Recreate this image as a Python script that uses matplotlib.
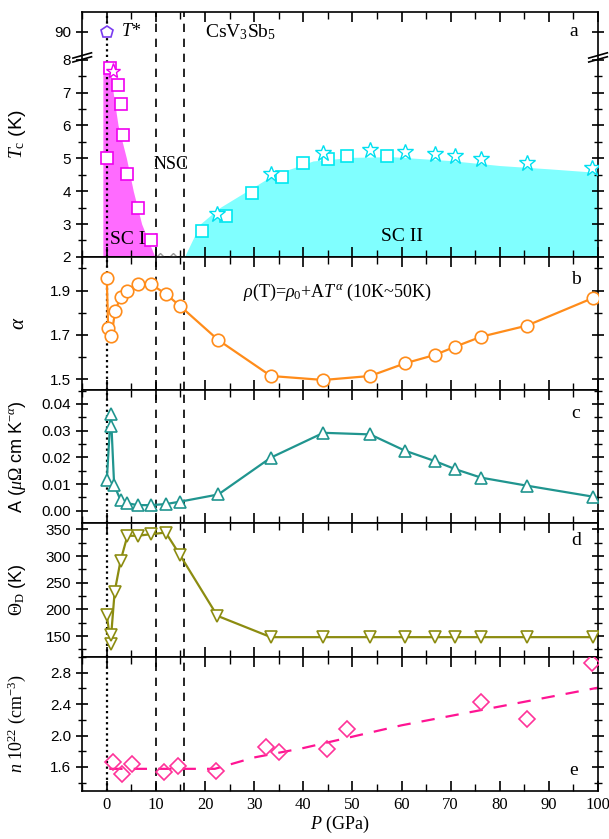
import matplotlib
matplotlib.use('Agg')
import matplotlib.pyplot as plt
from matplotlib.ticker import MultipleLocator, FixedLocator, FormatStrFormatter

plt.rcParams['font.family'] = ['Liberation Sans', 'DejaVu Sans']
plt.rcParams['mathtext.fontset'] = 'custom'
plt.rcParams['mathtext.rm'] = 'Liberation Serif'
plt.rcParams['mathtext.it'] = 'Liberation Serif:italic'
plt.rcParams['mathtext.bf'] = 'Liberation Serif:bold'
SERIF = ['Liberation Serif', 'DejaVu Serif']

# ---- data ----
# panel a: Tc (the 90 K point sits above the axis break)
sc1_sq_p = [0.0, 0.6, 2.3, 2.8, 3.3, 4.2, 6.3, 8.9]
sc1_sq_tc = [5.0, 7.75, 7.22, 6.65, 5.72, 4.53, 3.50, 2.52]
sc1_star_p = [1.3]
sc1_star_tc = [7.67]
sc1_fill_p = [-0.8, 0.7, 1.3, 2.3, 4.0, 5.4, 7.1, 9.8]
sc1_fill_tc = [7.8, 7.8, 7.0, 6.0, 5.0, 4.0, 3.0, 2.0]
nsc_p = [10.8, 13.5]
nsc_tc = [1.95, 1.95]
sc2_sq_p = [19.4, 24.3, 29.6, 35.6, 40.0, 45.1, 49.0, 57.1]
sc2_sq_tc = [2.80, 3.23, 3.94, 4.42, 4.87, 4.97, 5.06, 5.06]
sc2_star_p = [22.5, 33.4, 44.1, 53.6, 60.7, 66.8, 70.9, 76.2, 85.5, 98.8]
sc2_star_tc = [3.30, 4.53, 5.17, 5.24, 5.18, 5.14, 5.08, 4.98, 4.87, 4.70]
sc2_fill_p = [15.8, 19, 23, 28.5, 34, 42, 50, 58, 70, 80, 90, 100]
sc2_fill_tc = [2.0, 3.0, 3.5, 4.0, 4.5, 4.92, 5.03, 5.05, 4.93, 4.78, 4.68, 4.57]
tstar_p = [0.0]
tstar_val = 90

# panel b: alpha
alpha_p = [0.0, 0.27, 0.95, 1.7, 2.8, 4.2, 6.4, 9.0, 12.0, 14.9, 22.7, 33.4, 44.1,
           53.6, 60.7, 66.8, 70.9, 76.2, 85.5, 98.9]
alpha_v = [1.959, 1.730, 1.695, 1.808, 1.870, 1.900, 1.929, 1.929, 1.885, 1.831,
           1.677, 1.515, 1.497, 1.515, 1.572, 1.610, 1.647, 1.692, 1.742, 1.866]

# panel c: A coefficient
a_p = [0.0, 0.8, 0.95, 1.5, 2.8, 4.2, 6.3, 9.0, 12.0, 14.9, 22.7, 33.4, 44.1,
       53.6, 60.7, 66.8, 70.9, 76.2, 85.5, 98.9]
a_v = [0.0115, 0.0361, 0.0318, 0.0096, 0.0040, 0.0028, 0.0021, 0.0021, 0.0025, 0.0034,
       0.0061, 0.0199, 0.0292, 0.0286, 0.0225, 0.0186, 0.0156, 0.0124, 0.0094, 0.0053]
a_err = [0.0018] * len(a_p)

# panel d: Debye temperature
th_p = [0.0, 0.8, 0.9, 1.6, 2.8, 4.2, 6.3, 9.0, 12.0, 14.9, 22.5, 33.4, 44.1,
        53.6, 60.7, 66.8, 70.9, 76.2, 85.5, 98.9]
th_v = [189, 136, 152, 233, 291, 338, 338, 341, 344, 302, 188, 148, 148,
        148, 148, 148, 148, 148, 148, 148]

# panel e: carrier density
n_p = [1.3, 3.0, 5.2, 11.7, 14.5, 22.3, 32.5, 35.1, 44.8, 48.8, 76.2, 85.5, 98.8]
n_v = [1.664, 1.503, 1.634, 1.536, 1.613, 1.545, 1.848, 1.784, 1.826, 2.081, 2.43, 2.205, 2.93]
nfit_p = [0.5, 22, 30, 40, 60, 80, 100]
nfit_v = [1.575, 1.575, 1.72, 1.84, 2.13, 2.37, 2.61]

BREAK_Y = 8.85  # where 90 K is drawn on the broken axis

fig = plt.figure(figsize=(6.09, 8.39), dpi=100)
gs = fig.add_gridspec(5, 1, height_ratios=[245, 133, 133, 134, 134], hspace=0,
                      left=0.135, right=0.982, top=0.986, bottom=0.057)
axes = [fig.add_subplot(gs[i]) for i in range(5)]
for ax in axes[1:]:
    ax.sharex(axes[0])

for ax in axes:
    ax.set_xlim(-5, 100)
    ax.xaxis.set_major_locator(MultipleLocator(10))
    ax.xaxis.set_minor_locator(MultipleLocator(5))
    ax.tick_params(axis='x', which='both', direction='in', top=True, bottom=True)
    ax.tick_params(axis='x', which='major', length=7, width=1.2)
    ax.tick_params(axis='x', which='minor', length=5, width=1.0)
    ax.tick_params(axis='y', which='both', direction='inout', left=True, right=True)
    ax.tick_params(axis='y', which='major', length=9, width=1.2, labelsize=11)
    ax.tick_params(axis='y', which='minor', length=6, width=1.0)
    for s in ax.spines.values():
        s.set_linewidth(1.2)
    ax.axvline(0, color='k', ls=(0, (1, 1.5)), lw=1.6, zorder=1)
    ax.axvline(10, color='k', ls=(0, (5, 4)), lw=1.2, zorder=1)
    ax.axvline(15.7, color='k', ls=(0, (5, 4)), lw=1.2, zorder=1)
    ax.yaxis.set_label_coords(-0.105, 0.5)
for ax in axes[:-1]:
    ax.tick_params(axis='x', labelbottom=False)

# ---- a ----
ax = axes[0]
ax.fill_between(sc1_fill_p, 2, sc1_fill_tc, color='#ff6bff', lw=0, zorder=0)
ax.fill_between(sc2_fill_p, 2, sc2_fill_tc, color='#80ffff', lw=0, zorder=0)
ax.plot(sc1_sq_p, sc1_sq_tc, 's', ms=8, mfc='white', mec='#f000f0', mew=1.2, ls='none', zorder=3)
ax.plot(sc1_star_p, sc1_star_tc, '*', ms=11, mfc='white', mec='#f000f0', mew=1.0, ls='none', zorder=3)
ax.plot(nsc_p, nsc_tc, 'D', ms=6, mfc='white', mec='#999999', mew=1.0, ls='none', zorder=3)
ax.plot(sc2_sq_p, sc2_sq_tc, 's', ms=8, mfc='white', mec='#00e8f0', mew=1.2, ls='none', zorder=3)
ax.plot(sc2_star_p, sc2_star_tc, '*', ms=12, mfc='white', mec='#00e0f0', mew=1.0, ls='none', zorder=3)
ax.plot(tstar_p, [BREAK_Y], 'p', ms=9, mfc='white', mec='#7a3cf0', mew=1.2, ls='none', zorder=3)
ax.set_ylim(2, 9.46)
ax.yaxis.set_major_locator(FixedLocator([2, 3, 4, 5, 6, 7, 8, BREAK_Y]))
ax.yaxis.set_minor_locator(FixedLocator([2.5, 3.5, 4.5, 5.5, 6.5, 7.5]))
ax.set_yticklabels(['2', '3', '4', '5', '6', '7', '8', str(tstar_val)])
ax.set_ylabel(r'$T_\mathrm{c}$ (K)', fontsize=14)
# axis break marks on both spines
for xa in (0, 1):
    for dy in (-0.06, 0.06):
        ax.plot([xa - 0.018, xa + 0.018], [7.99 + dy, 8.15 + dy], color='k', lw=1.2,
                transform=ax.get_yaxis_transform(), clip_on=False, zorder=6)
ax.text(2.8, BREAK_Y, r'$T$*', fontsize=13, va='center', ha='left', family=SERIF)
ax.text(20, BREAK_Y, r'CsV$_3$Sb$_5$', fontsize=14, va='center', ha='left', family=SERIF)
ax.text(13, 4.8, 'NSC', fontsize=13, va='center', ha='center', family=SERIF)
ax.text(4.3, 2.52, 'SC I', fontsize=14, va='center', ha='center', family=SERIF, zorder=4)
ax.text(60, 2.62, 'SC II', fontsize=14, va='center', ha='center', family=SERIF)
ax.text(95, BREAK_Y, 'a', fontsize=14, va='center', ha='center', family=SERIF)

# ---- b ----
ax = axes[1]
ax.plot(alpha_p, alpha_v, '-o', color='#ff8c1a', lw=1.6, ms=9, mfc='white', mew=1.2, zorder=3)
ax.set_ylim(1.452, 2.052)
ax.yaxis.set_major_locator(FixedLocator([1.5, 1.7, 1.9]))
ax.yaxis.set_minor_locator(FixedLocator([1.6, 1.8, 2.0]))
ax.yaxis.set_major_formatter(FormatStrFormatter('%.1f'))
ax.set_ylabel(r'$\alpha$', fontsize=15)
ax.text(27.7, 1.89, r'$\rho$(T)=$\rho_{\mathit{0}}$+A$T^{\alpha}$ (10K~50K)', fontsize=13,
        va='center', ha='left', family=SERIF)
ax.text(95.5, 1.95, 'b', fontsize=14, va='center', ha='center', family=SERIF)

# ---- c ----
ax = axes[2]
ax.errorbar(a_p, a_v, yerr=a_err, fmt='-^', color='#20958f', lw=1.6, ms=9, mfc='white',
            mew=1.2, elinewidth=1.0, capsize=0, zorder=3)
ax.set_ylim(-0.0046, 0.04525)
ax.yaxis.set_major_locator(MultipleLocator(0.01))
ax.yaxis.set_minor_locator(MultipleLocator(0.005))
ax.yaxis.set_major_formatter(FormatStrFormatter('%.2f'))
ax.set_ylabel(r'A ($\mu\Omega$ cm K$^{-\alpha}$)', fontsize=13)
ax.text(95.5, 0.0365, 'c', fontsize=14, va='center', ha='center', family=SERIF)

# ---- d ----
ax = axes[3]
ax.plot(th_p, th_v, '-v', color='#8c8c10', lw=1.6, ms=9, mfc='white', mew=1.2, zorder=3)
ax.set_ylim(110.6, 361.9)
ax.yaxis.set_major_locator(MultipleLocator(50))
ax.yaxis.set_minor_locator(MultipleLocator(25))
ax.set_ylabel(r'$\Theta_\mathrm{D}$ (K)', fontsize=13)
ax.text(95.5, 330, 'd', fontsize=14, va='center', ha='center', family=SERIF)

# ---- e ----
ax = axes[4]
ax.plot(nfit_p, nfit_v, color='#ff1493', ls=(0, (6, 5)), lw=1.6, zorder=2)
ax.plot(n_p, n_v, 'D', ms=8, mfc='none', mec='#ff3399', mew=1.2, ls='none', zorder=3)
ax.set_ylim(1.29, 3.0)
ax.yaxis.set_major_locator(FixedLocator([1.6, 2.0, 2.4, 2.8]))
ax.yaxis.set_minor_locator(FixedLocator([1.4, 1.8, 2.2, 2.6, 3.0]))
ax.yaxis.set_major_formatter(FormatStrFormatter('%.1f'))
ax.set_ylabel(r'$n$ 10$^{22}$ (cm$^{-3}$)', fontsize=13, family=SERIF)
ax.text(95, 1.55, 'e', fontsize=14, va='center', ha='center', family=SERIF)
ax.set_xlabel(r'$P$ (GPa)', fontsize=13, family=SERIF, labelpad=1)
ax.tick_params(axis='x', labelsize=12, pad=4)
for lab in ax.get_xticklabels():
    lab.set_fontfamily(SERIF)

fig.savefig('out.png', dpi=100)
